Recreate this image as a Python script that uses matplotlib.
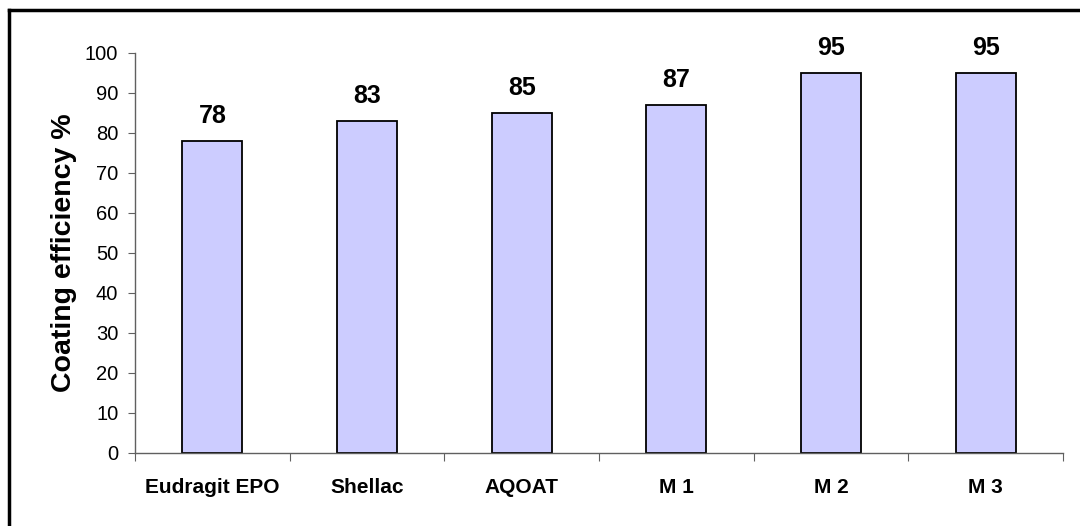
import numpy as np
import matplotlib.pyplot as plt
from matplotlib.lines import Line2D

categories = ["Eudragit EPO", "Shellac", "AQOAT", "M 1", "M 2", "M 3"]
efficiency = [78, 83, 85, 87, 95, 95]

plt.rcParams['font.family'] = ['Liberation Sans', 'DejaVu Sans']

fig = plt.figure(figsize=(10.8, 5.26), dpi=100)
ax = fig.add_axes([135 / 1080, 73 / 526, 928 / 1080, 400 / 526])

x = np.arange(len(categories)) + 0.5
bars = ax.bar(x, efficiency, width=0.39, color="#CCCCFF", edgecolor="black", linewidth=1.3)

for xi, v in zip(x, efficiency):
    ax.annotate(str(v), (xi, v), xytext=(0, 9.5), textcoords="offset points",
                ha="center", va="bottom", fontsize=18, fontweight="bold")

ax.set_xlim(0, len(categories))
ax.set_ylim(0, 100)
ax.set_yticks(np.arange(0, 101, 10))
ax.tick_params(axis="y", labelsize=14.5, length=5, direction="out", color="#606060", pad=7)

ax.set_xticks(np.arange(len(categories) + 1))
ax.set_xticklabels([])
ax.tick_params(axis="x", which="major", length=6, direction="out", color="#606060")
ax.set_xticks(x, minor=True)
ax.set_xticklabels(categories, minor=True, fontsize=15, fontweight="bold")
ax.tick_params(axis="x", which="minor", length=0, pad=18)

for s in ["top", "right"]:
    ax.spines[s].set_visible(False)
for s in ["left", "bottom"]:
    ax.spines[s].set_color("#606060")
    ax.spines[s].set_linewidth(1.0)

ax.set_ylabel("Coating efficiency %", fontsize=20.5, fontweight="bold", labelpad=6)

# outer frame (only top and left visible in the crop)
fig.add_artist(Line2D([9 / 1080, 9 / 1080], [0, 1 - 10 / 526], transform=fig.transFigure,
                      color="black", linewidth=2.5))
fig.add_artist(Line2D([9 / 1080, 1], [1 - 10 / 526, 1 - 10 / 526], transform=fig.transFigure,
                      color="black", linewidth=2.5))

fig.savefig("out.png", dpi=100)
